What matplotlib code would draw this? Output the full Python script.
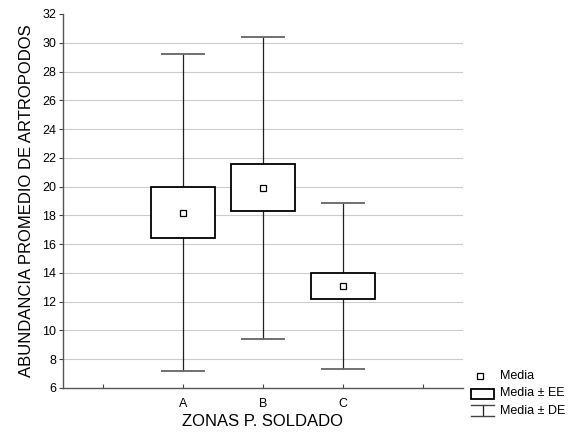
import matplotlib
matplotlib.use("Agg")
import matplotlib.pyplot as plt
from matplotlib.lines import Line2D
from matplotlib.patches import Rectangle

plt.rcParams["font.family"] = ["Liberation Sans", "DejaVu Sans"]

zones = ["A", "B", "C"]
means = [18.2, 19.93, 13.1]
se = [1.75, 1.63, 0.88]
sd = [11.05, 10.5, 5.78]
yticks = list(range(6, 33, 2))

W, H = 585, 438
fig = plt.figure(figsize=(W / 100, H / 100), dpi=100)
ax = fig.add_axes([63 / W, 1 - 388 / H, 400 / W, 374 / H])

xs = [1, 2, 3]
box_w = 0.79
cap_w = 0.55

for y in yticks[1:-1]:
    ax.axhline(y, color="#cccccc", lw=0.8, zorder=0)

for x, m, e, d in zip(xs, means, se, sd):
    ax.vlines(x, m + e, m + d, color="#222222", lw=0.9, zorder=2)
    ax.vlines(x, m - d, m - e, color="#222222", lw=0.9, zorder=2)
    ax.hlines([m + d, m - d], x - cap_w / 2, x + cap_w / 2, color="#666666", lw=1.3, zorder=2)
ax.bar(xs, [2 * e for e in se], bottom=[m - e for m, e in zip(means, se)],
       width=box_w, color="white", edgecolor="black", lw=1.3, zorder=3)
ax.plot(xs, means, ls="none", marker="s", ms=4, mfc="white", mec="black", mew=0.9, zorder=4)

ax.set_xlim(-0.5, 4.5)
ax.set_ylim(6, 32)
ax.set_xticks([0, 1, 2, 3, 4])
ax.set_xticklabels(["", "A", "B", "C", ""], fontsize=9)
ax.set_yticks(yticks)
ax.tick_params(axis="y", labelsize=9, length=3, width=0.8, color="#444444", pad=2)
ax.tick_params(axis="x", direction="in", length=3, width=0.8, color="#444444", pad=7)
for s in ["top", "right"]:
    ax.spines[s].set_visible(False)
for s in ["left", "bottom"]:
    ax.spines[s].set_color("#555555")
    ax.spines[s].set_linewidth(1.0)

ax.set_xlabel("ZONAS P. SOLDADO", fontsize=12, labelpad=3)
ax.set_ylabel("ABUNDANCIA PROMEDIO DE ARTROPODOS", fontsize=12, labelpad=6)

# legend, drawn in figure pixels
def fx(px):
    return px / W

def fy(py):
    return 1 - py / H

fig.add_artist(Line2D([fx(480)], [fy(376)], marker="s", ms=4, mfc="white", mec="black", mew=0.9,
                      transform=fig.transFigure))
fig.add_artist(Rectangle((fx(471), fy(399)), 23 / W, 10 / H, fill=False, ec="black", lw=1.3,
                         transform=fig.transFigure))
fig.add_artist(Line2D([fx(482.5), fx(482.5)], [fy(405), fy(416)], color="#222222", lw=0.9,
                      transform=fig.transFigure))
for py in (405, 416):
    fig.add_artist(Line2D([fx(471), fx(494)], [fy(py), fy(py)], color="#444444", lw=1.0,
                          transform=fig.transFigure))
for py, label in [(376, "Media"), (393.5, "Media \u00b1 EE"), (411, "Media \u00b1 DE")]:
    fig.text(fx(500), fy(py), label, fontsize=9, va="center", ha="left")

fig.savefig("out.png", dpi=100)
